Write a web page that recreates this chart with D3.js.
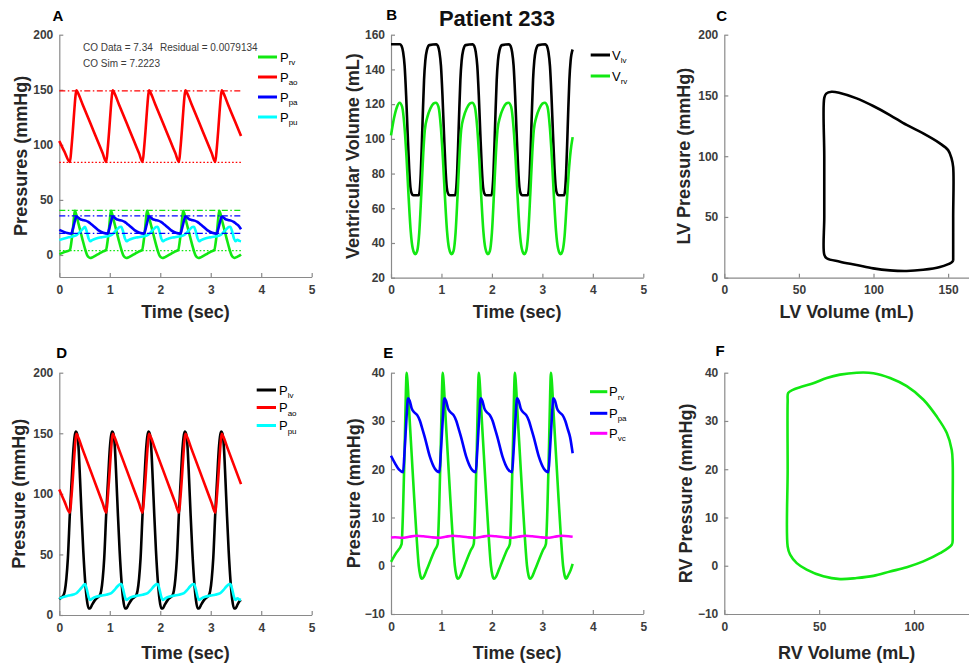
<!DOCTYPE html>
<html>
<head>
<meta charset="utf-8">
<script src="https://cdn.jsdelivr.net/npm/d3@7"></script>
<style>
  body { margin: 0; background: #fff; }
  svg { display: block; font-family: "Liberation Sans", Arial, sans-serif; }
  .axis path, .axis line { stroke: #8a8a8a; stroke-width: 1.2; }
  .axis text { fill: #3c3c3c; font-weight: bold; font-size: 12px; font-family: "Liberation Sans", Arial, sans-serif; }
  .label { fill: #262626; font-weight: bold; font-size: 18px; }
  .letter { fill: #000; font-weight: bold; font-size: 15px; }
</style>
</head>
<body>
<svg id="fig" width="969" height="667"></svg>
<script>
// ---- data: [time (s), value] ----
const pao = [[0,103.5],[0.10,94],
  [0.21,84.5],[0.24,97],[0.27,114],[0.30,133],[0.325,146],[0.34,149.5],[0.36,148],[0.46,136.9],[0.61,120.2],[0.76,103.4],[0.86,92.3],
  [0.93,84.5],[0.96,97],[0.99,114],[1.02,133],[1.045,146],[1.06,149.5],[1.08,148],[1.18,136.9],[1.33,120.2],[1.48,103.4],[1.58,92.3],
  [1.65,84.5],[1.68,97],[1.71,114],[1.74,133],[1.765,146],[1.78,149.5],[1.80,148],[1.90,136.9],[2.05,120.2],[2.20,103.4],[2.30,92.3],
  [2.37,84.5],[2.40,97],[2.43,114],[2.46,133],[2.485,146],[2.50,149.5],[2.52,148],[2.62,136.9],[2.77,120.2],[2.92,103.4],[3.02,92.3],
  [3.09,84.5],[3.12,97],[3.15,114],[3.18,133],[3.205,146],[3.22,149.5],[3.24,148],[3.34,136.9],[3.49,120.2],[3.60,108]];

const prv = [[0,0.8],[0.10,2.6],
  [0.21,4.5],[0.24,12],[0.27,24],[0.295,36],[0.31,40],[0.325,38.5],[0.36,32],[0.41,23],[0.46,14],[0.51,5.5],[0.55,0],[0.58,-2],[0.61,-2.7],[0.65,-2.3],[0.71,-0.8],[0.79,1.3],[0.87,3.3],
  [0.925,4.5],[0.955,12],[0.985,24],[1.01,36],[1.025,40],[1.04,38.5],[1.075,32],[1.125,23],[1.175,14],[1.225,5.5],[1.265,0],[1.295,-2],[1.325,-2.7],[1.365,-2.3],[1.425,-0.8],[1.505,1.3],[1.585,3.3],
  [1.64,4.5],[1.67,12],[1.70,24],[1.725,36],[1.74,40],[1.755,38.5],[1.79,32],[1.84,23],[1.89,14],[1.94,5.5],[1.98,0],[2.01,-2],[2.04,-2.7],[2.08,-2.3],[2.14,-0.8],[2.22,1.3],[2.30,3.3],
  [2.355,4.5],[2.385,12],[2.415,24],[2.44,36],[2.455,40],[2.47,38.5],[2.505,32],[2.555,23],[2.605,14],[2.655,5.5],[2.695,0],[2.725,-2],[2.755,-2.7],[2.795,-2.3],[2.855,-0.8],[2.935,1.3],[3.015,3.3],
  [3.07,4.5],[3.10,12],[3.13,24],[3.155,36],[3.17,40],[3.185,38.5],[3.22,32],[3.27,23],[3.32,14],[3.37,5.5],[3.41,0],[3.44,-2],[3.47,-2.7],[3.51,-2],[3.56,-0.9],[3.60,0.4]];

const ppa = [[0,22.8],[0.08,21.2],[0.16,19.9],
  [0.24,19.4],[0.265,23],[0.29,27.5],[0.315,32],[0.33,34.3],[0.34,34.7],[0.37,34.2],[0.41,32.6],[0.46,31.8],[0.52,31.2],[0.575,30],[0.62,28.4],[0.67,26.6],[0.77,22.6],[0.87,20.1],
  [0.96,19.4],[0.985,23],[1.01,27.5],[1.035,32],[1.05,34.3],[1.06,34.7],[1.09,34.2],[1.13,32.6],[1.18,31.8],[1.24,31.2],[1.295,30],[1.34,28.4],[1.39,26.6],[1.49,22.6],[1.59,20.1],
  [1.68,19.4],[1.705,23],[1.73,27.5],[1.755,32],[1.77,34.3],[1.78,34.7],[1.81,34.2],[1.85,32.6],[1.90,31.8],[1.96,31.2],[2.015,30],[2.06,28.4],[2.11,26.6],[2.21,22.6],[2.31,20.1],
  [2.40,19.4],[2.425,23],[2.45,27.5],[2.475,32],[2.49,34.3],[2.50,34.7],[2.53,34.2],[2.57,32.6],[2.62,31.8],[2.68,31.2],[2.735,30],[2.78,28.4],[2.83,26.6],[2.93,22.6],[3.03,20.1],
  [3.12,19.4],[3.145,23],[3.17,27.5],[3.195,32],[3.21,34.3],[3.22,34.7],[3.25,34.2],[3.29,32.6],[3.34,31.8],[3.40,31.2],[3.455,30],[3.50,28.4],[3.55,26.6],[3.60,23.3]];

const ppu = [[0,13.5],[0.08,14.8],[0.18,16],[0.28,17],[0.34,18],[0.40,20.5],[0.46,23.5],
  [0.51,25.5],[0.54,22],[0.58,15],[0.61,12.5],[0.65,13.5],[0.73,15],[0.83,16],[0.93,16.8],[1.03,18],[1.09,20.5],[1.15,23.5],[1.20,25.3],
  [1.23,25.5],[1.26,22],[1.30,15],[1.33,12.5],[1.37,13.5],[1.45,15],[1.55,16],[1.65,16.8],[1.75,18],[1.81,20.5],[1.87,23.5],[1.92,25.3],
  [1.95,25.5],[1.98,22],[2.02,15],[2.05,12.5],[2.09,13.5],[2.17,15],[2.27,16],[2.37,16.8],[2.47,18],[2.53,20.5],[2.59,23.5],[2.64,25.3],
  [2.67,25.5],[2.70,22],[2.74,15],[2.77,12.5],[2.81,13.5],[2.89,15],[2.99,16],[3.09,16.8],[3.19,18],[3.25,20.5],[3.31,23.5],[3.36,25.3],
  [3.39,25.5],[3.42,22],[3.46,15],[3.49,12.5],[3.53,13.8],[3.57,12.8],[3.60,12.5]];

const plv = [[0,13],[0.04,14.5],
  [0.08,16],[0.11,20],[0.14,30],[0.17,47],[0.21,84],[0.245,111],[0.28,137],[0.31,149],[0.33,151.5],[0.35,150],[0.38,139],[0.41,113],[0.44,84],[0.475,53],[0.51,29],[0.545,13],[0.58,5.5],[0.61,5.5],[0.65,8.5],[0.71,12.5],[0.76,14.5],
  [0.80,16],[0.83,20],[0.86,30],[0.89,47],[0.93,84],[0.965,111],[1.00,137],[1.03,149],[1.05,151.5],[1.07,150],[1.10,139],[1.13,113],[1.16,84],[1.195,53],[1.23,29],[1.265,13],[1.30,5.5],[1.33,5.5],[1.37,8.5],[1.43,12.5],[1.48,14.5],
  [1.52,16],[1.55,20],[1.58,30],[1.61,47],[1.65,84],[1.685,111],[1.72,137],[1.75,149],[1.77,151.5],[1.79,150],[1.82,139],[1.85,113],[1.88,84],[1.915,53],[1.95,29],[1.985,13],[2.02,5.5],[2.05,5.5],[2.09,8.5],[2.15,12.5],[2.20,14.5],
  [2.24,16],[2.27,20],[2.30,30],[2.33,47],[2.37,84],[2.405,111],[2.44,137],[2.47,149],[2.49,151.5],[2.51,150],[2.54,139],[2.57,113],[2.60,84],[2.635,53],[2.67,29],[2.705,13],[2.74,5.5],[2.77,5.5],[2.81,8.5],[2.87,12.5],[2.92,14.5],
  [2.96,16],[2.99,20],[3.02,30],[3.05,47],[3.09,84],[3.125,111],[3.16,137],[3.19,149],[3.21,151.5],[3.23,150],[3.26,139],[3.29,113],[3.32,84],[3.355,53],[3.39,29],[3.425,13],[3.46,5.5],[3.49,5.5],[3.53,8.5],[3.57,11.5],[3.60,12.5]];

const pvc = [[0,5.85],[0.08,5.9],[0.22,5.8],[0.36,6.0],[0.50,6.2],[0.64,6.1],
  [0.80,5.9],[0.94,5.8],[1.08,6.0],[1.22,6.2],[1.36,6.1],
  [1.52,5.9],[1.66,5.8],[1.80,6.0],[1.94,6.2],[2.08,6.1],
  [2.24,5.9],[2.38,5.8],[2.52,6.0],[2.66,6.2],[2.80,6.1],
  [2.96,5.9],[3.10,5.8],[3.24,6.0],[3.38,6.2],[3.52,6.1],[3.60,6.0]];

const vlv = [[0,154.5],
  [0.18,154.5],[0.21,153.5],[0.24,150],[0.27,142],[0.30,125],[0.33,103],[0.36,83],[0.385,72],[0.41,68.5],[0.44,67.5],[0.55,67.5],[0.57,70.5],[0.59,80],[0.61,96],[0.63,114],[0.655,134],[0.68,145],[0.71,151],[0.76,154],
  [0.90,154.5],[0.93,153.5],[0.96,150],[0.99,142],[1.02,125],[1.05,103],[1.08,83],[1.105,72],[1.13,68.5],[1.16,67.5],[1.27,67.5],[1.29,70.5],[1.31,80],[1.33,96],[1.35,114],[1.375,134],[1.40,145],[1.43,151],[1.48,154],
  [1.62,154.5],[1.65,153.5],[1.68,150],[1.71,142],[1.74,125],[1.77,103],[1.80,83],[1.825,72],[1.85,68.5],[1.88,67.5],[1.99,67.5],[2.01,70.5],[2.03,80],[2.05,96],[2.07,114],[2.095,134],[2.12,145],[2.15,151],[2.20,154],
  [2.34,154.5],[2.37,153.5],[2.40,150],[2.43,142],[2.46,125],[2.49,103],[2.52,83],[2.545,72],[2.57,68.5],[2.60,67.5],[2.71,67.5],[2.73,70.5],[2.75,80],[2.77,96],[2.79,114],[2.815,134],[2.84,145],[2.87,151],[2.92,154],
  [3.06,154.5],[3.09,153.5],[3.12,150],[3.15,142],[3.18,125],[3.21,103],[3.24,83],[3.265,72],[3.29,68.5],[3.32,67.5],[3.43,67.5],[3.45,70.5],[3.47,80],[3.49,96],[3.51,114],[3.535,134],[3.56,145],[3.60,151.5]];

const vrv = [[0,102],[0.06,112],[0.12,118.5],
  [0.17,120.8],[0.22,118.5],[0.27,106],[0.31,88],[0.35,66],[0.39,47],[0.43,37],[0.48,33.6],[0.52,35.5],[0.56,46],[0.60,68],[0.64,92],[0.67,105],[0.72,112.5],[0.78,117.5],[0.84,120.3],
  [0.89,120.8],[0.94,118.5],[0.99,106],[1.03,88],[1.07,66],[1.11,47],[1.15,37],[1.20,33.6],[1.24,35.5],[1.28,46],[1.32,68],[1.36,92],[1.39,105],[1.44,112.5],[1.50,117.5],[1.56,120.3],
  [1.61,120.8],[1.66,118.5],[1.71,106],[1.75,88],[1.79,66],[1.83,47],[1.87,37],[1.92,33.6],[1.96,35.5],[2.00,46],[2.04,68],[2.08,92],[2.11,105],[2.16,112.5],[2.22,117.5],[2.28,120.3],
  [2.33,120.8],[2.38,118.5],[2.43,106],[2.47,88],[2.51,66],[2.55,47],[2.59,37],[2.64,33.6],[2.68,35.5],[2.72,46],[2.76,68],[2.80,92],[2.83,105],[2.88,112.5],[2.94,117.5],[3.00,120.3],
  [3.05,120.8],[3.10,118.5],[3.15,106],[3.19,88],[3.23,66],[3.27,47],[3.31,37],[3.36,33.6],[3.40,35.5],[3.44,44],[3.48,62],[3.52,80],[3.56,93],[3.60,101]];

// pressure-volume loops: [volume (mL), pressure (mmHg)]
const lvLoop = [[153.4,14],[153.4,50],[153.4,91],[152.3,98.3],[150,105],[144.5,110.6],[133.3,118.8],[122.2,125.7],[111,133.9],[99.8,141.3],[88.7,147.6],[77.5,152],[71.9,153],[68.3,151.5],[67,148],[67,100],[67,50],[67,19],[68.6,16],[77.5,13.2],[88.7,10.5],[99.8,7.7],[111,6],[122.2,5.5],[133.3,6.5],[144.5,8.8],[152.3,12.5],[153.4,14]];
const rvLoop = [[120.4,5.4],[120.4,13],[120.4,21.3],[119.9,24],[117.3,27.5],[112,30.9],[105,34.4],[96.2,37.2],[87.4,38.9],[78.6,39.9],[69.8,40],[61,39.6],[54,38.9],[46.9,37.8],[39.9,37],[36.4,36.5],[33.7,35.8],[33.4,34],[33.4,20],[33.4,4],[34.7,2.3],[38.2,0.55],[43.4,-0.8],[52.2,-2.2],[61,-2.77],[69.8,-2.55],[78.6,-2.1],[87.4,-1.2],[96.2,-0.3],[104.9,0.9],[113.7,2.6],[119.9,4.35],[120.4,5.4]];

// measured (data) systolic / diastolic levels shown in panel A
const refSpan = [0, 3.6];
const refPao = [149, 84];
const refPrv = [40.5, 4];
const refPpa = [35.5, 19.7];

const timeTicks = [0, 1, 2, 3, 4, 5];
const green = "#12e812", red = "#ff0000", blue = "#0000ff", cyan = "#00ffff", black = "#000000", magenta = "#ff00ff";

const svg = d3.select("#fig");
const fmt = d3.format("d");

function makePanel(o) {
  const x = d3.scaleLinear().domain(o.xd).range(o.xr);
  const y = d3.scaleLinear().domain(o.yd).range(o.yr);
  const g = svg.append("g");
  g.append("g").attr("class", "axis")
    .attr("transform", `translate(0,${o.yr[0]})`)
    .call(d3.axisBottom(x).tickValues(o.xt).tickFormat(fmt).tickSizeInner(-4).tickSizeOuter(0).tickPadding(8));
  g.append("g").attr("class", "axis")
    .attr("transform", `translate(${o.xr[0]},0)`)
    .call(d3.axisLeft(y).tickValues(o.yt).tickFormat(fmt).tickSizeInner(-4).tickSizeOuter(0).tickPadding(6));
  g.append("text").attr("class", "label")
    .attr("x", (o.xr[0] + o.xr[1]) / 2).attr("y", o.xly)
    .attr("text-anchor", "middle").text(o.xl);
  g.append("text").attr("class", "label")
    .attr("transform", `translate(${o.ylx},${(o.yr[0] + o.yr[1]) / 2}) rotate(-90)`)
    .attr("text-anchor", "middle").text(o.yl);
  g.append("text").attr("class", "letter")
    .attr("x", o.letter[0]).attr("y", o.letter[1])
    .attr("text-anchor", "middle").text(o.id);
  return { x, y, g };
}

function drawSeries(p, data, color, curve) {
  const line = d3.line()
    .x((d) => p.x(d[0]))
    .y((d) => p.y(d[1]))
    .curve(curve || d3.curveMonotoneX);
  p.g.append("path")
    .datum(data)
    .attr("d", line)
    .attr("fill", "none")
    .attr("stroke", color)
    .attr("stroke-width", 2.6)
    .attr("stroke-linejoin", "round");
}

function drawRef(p, value, color, dash) {
  p.g.append("line")
    .attr("x1", p.x(refSpan[0])).attr("x2", p.x(refSpan[1]))
    .attr("y1", p.y(value)).attr("y2", p.y(value))
    .attr("stroke", color).attr("stroke-width", 1.3)
    .attr("stroke-dasharray", dash);
}

function legend(x0, x1, tx, rows, entries) {
  const lg = svg.append("g");
  entries.forEach((e, i) => {
    lg.append("line")
      .attr("x1", x0).attr("x2", x1)
      .attr("y1", rows[i]).attr("y2", rows[i])
      .attr("stroke", e[0]).attr("stroke-width", 3);
    const t = lg.append("text")
      .attr("x", tx).attr("y", rows[i] + 4.5)
      .attr("font-size", 13).attr("fill", "#000")
      .text(e[1]);
    t.append("tspan").attr("font-size", 8).attr("dy", 3.5).text(e[2]);
  });
}

const dashDot = "6,2.5,1.5,2.5";
const dotted = "1.6,2";

// ---- A ----
const A = makePanel({ id: "A", xd: [0, 5], yd: [-20, 200], xr: [59.3, 311.7], yr: [277, 34.7],
  xt: timeTicks, yt: [0, 50, 100, 150, 200], xl: "Time (sec)", yl: "Pressures (mmHg)",
  ylx: 26.5, xly: 318, letter: [58, 20.7] });
drawSeries(A, prv, green);
drawSeries(A, pao, red);
drawSeries(A, ppa, blue);
drawSeries(A, ppu, cyan);
drawRef(A, refPao[0], red, dashDot);
drawRef(A, refPao[1], red, dotted);
drawRef(A, refPrv[0], green, dashDot);
drawRef(A, refPrv[1], green, dotted);
drawRef(A, refPpa[0], blue, dashDot);
drawRef(A, refPpa[1], blue, dashDot);
const note = svg.append("g").attr("font-size", 10).attr("fill", "#3a3a3a").style("white-space", "pre");
note.append("text").attr("x", 83).attr("y", 51).text("CO Data = 7.34");
note.append("text").attr("x", 160).attr("y", 51).text("Residual = 0.0079134");
note.append("text").attr("x", 83).attr("y", 67).text("CO Sim  = 7.2223");
legend(258, 277, 280, [57, 77, 97, 117], [[green, "P", "rv"], [red, "P", "ao"], [blue, "P", "pa"], [cyan, "P", "pu"]]);

// ---- B ----
const B = makePanel({ id: "B", xd: [0, 5], yd: [20, 160], xr: [391, 643.3], yr: [277.7, 34.7],
  xt: timeTicks, yt: [20, 40, 60, 80, 100, 120, 140, 160], xl: "Time (sec)", yl: "Ventricular Volume (mL)",
  ylx: 358.5, xly: 318, letter: [391.7, 20] });
drawSeries(B, vlv, black);
drawSeries(B, vrv, green);
legend(590.7, 610, 612, [55, 76], [[black, "V", "lv"], [green, "V", "rv"]]);
svg.append("text").attr("x", 497).attr("y", 26).attr("text-anchor", "middle")
  .attr("font-size", 22).attr("font-weight", "bold").attr("fill", "#111").text("Patient 233");

// ---- C ----
const C = makePanel({ id: "C", xd: [0, 164], yd: [0, 200], xr: [724.3, 969], yr: [277.7, 34.7],
  xt: [0, 50, 100, 150], yt: [0, 50, 100, 150, 200], xl: "LV Volume (mL)", yl: "LV Pressure (mmHg)",
  ylx: 689.5, xly: 318, letter: [721.7, 20.7] });
drawSeries(C, lvLoop, black, d3.curveCatmullRom);

// ---- D ----
const D = makePanel({ id: "D", xd: [0, 5], yd: [0, 200], xr: [59.3, 311.7], yr: [615, 372.7],
  xt: timeTicks, yt: [0, 50, 100, 150, 200], xl: "Time (sec)", yl: "Pressure (mmHg)",
  ylx: 25, xly: 659, letter: [61.7, 358.3] });
drawSeries(D, plv, black);
drawSeries(D, pao, red);
drawSeries(D, ppu, cyan);
legend(256.7, 276, 279, [390, 407.5, 425.5], [[black, "P", "lv"], [red, "P", "ao"], [cyan, "P", "pu"]]);

// ---- E ----
const E = makePanel({ id: "E", xd: [0, 5], yd: [-10, 40], xr: [391, 643.3], yr: [614, 372.7],
  xt: timeTicks, yt: [-10, 0, 10, 20, 30, 40], xl: "Time (sec)", yl: "Pressure (mmHg)",
  ylx: 360, xly: 659, letter: [388.3, 358.3] });
drawSeries(E, prv, green);
drawSeries(E, ppa, blue);
drawSeries(E, pvc, magenta);
legend(590, 607.3, 609, [391.7, 413.3, 433.3], [[green, "P", "rv"], [blue, "P", "pa"], [magenta, "P", "vc"]]);

// ---- F ----
const F = makePanel({ id: "F", xd: [0, 129], yd: [-10, 40], xr: [724.3, 969], yr: [614, 372.7],
  xt: [0, 50, 100], yt: [-10, 0, 10, 20, 30, 40], xl: "RV Volume (mL)", yl: "RV Pressure (mmHg)",
  ylx: 691.5, xly: 659, letter: [720, 356] });
drawSeries(F, rvLoop, green, d3.curveCatmullRom);
</script>
</body>
</html>
